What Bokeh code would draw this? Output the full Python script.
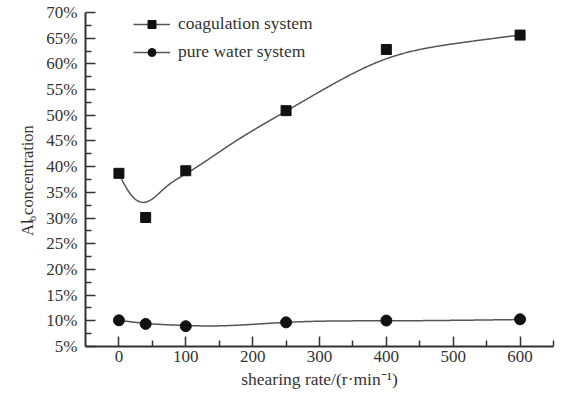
import numpy as np
from bokeh.plotting import figure
from bokeh.layouts import row
from bokeh.models import (Range1d, FixedTicker, PrintfTickFormatter, Legend, LegendItem)
from bokeh.core.properties import value
from bokeh.embed import file_html
from bokeh.resources import INLINE

# ---- data ----
shear_rate = [0, 40, 100, 250, 400, 600]
coagulation = [38.7, 30.1, 39.2, 50.9, 62.8, 65.6]
pure_water = [10.1, 9.4, 8.95, 9.7, 10.05, 10.3]

# fitted-curve knots
coag_curve_x = [0, 17, 40, 70, 100, 175, 250, 325, 400, 500, 600]
coag_curve_y = [38.6, 34.7, 33.1, 36.0, 38.6, 45.0, 50.8, 56.4, 61.0, 63.9, 65.6]
water_curve_x = [0, 40, 100, 130, 250, 400, 600]
water_curve_y = [10.1, 9.5, 9.1, 9.0, 9.7, 10.0, 10.25]

x_major = [0, 100, 200, 300, 400, 500, 600]
x_minor = [50, 150, 250, 350, 450, 550, 650]
y_major = [5, 10, 15, 20, 25, 30, 35, 40, 45, 50, 55, 60, 65, 70]
y_minor = [7.5, 12.5, 17.5, 22.5, 27.5, 32.5, 37.5, 42.5, 47.5, 52.5, 57.5, 62.5, 67.5]

y_label_parts = ["Al", "b", "concentration"]

FONT = "Liberation Serif"
TXT = "#333333"
FS = "17px"

W, H = 563, 396
LW = 40  # width of the strip that holds the rotated y-axis title


def natural_spline(xk, yk, n=400):
    xk = np.asarray(xk, float); yk = np.asarray(yk, float)
    m = len(xk); h = np.diff(xk)
    A = np.zeros((m, m)); b = np.zeros(m)
    A[0, 0] = A[-1, -1] = 1
    for i in range(1, m - 1):
        A[i, i - 1] = h[i - 1]; A[i, i] = 2 * (h[i - 1] + h[i]); A[i, i + 1] = h[i]
        b[i] = 6 * ((yk[i + 1] - yk[i]) / h[i] - (yk[i] - yk[i - 1]) / h[i - 1])
    M = np.linalg.solve(A, b)
    xs = np.linspace(xk[0], xk[-1], n)
    idx = np.clip(np.searchsorted(xk, xs) - 1, 0, m - 2)
    x0 = xk[idx]; x1 = xk[idx + 1]; hh = x1 - x0
    t0 = x1 - xs; t1 = xs - x0
    ys = (M[idx] * t0**3 + M[idx + 1] * t1**3) / (6 * hh) + \
         (yk[idx] / hh - M[idx] * hh / 6) * t0 + (yk[idx + 1] / hh - M[idx + 1] * hh / 6) * t1
    return xs, ys


# ---- strip with the y-axis title (pixel coordinates, y measured from bottom) ----
t = figure(width=LW, height=H, x_range=Range1d(0, LW), y_range=Range1d(0, H),
           output_backend="svg", toolbar_location=None, x_axis_type=None, y_axis_type=None,
           min_border=0, min_border_left=0, min_border_right=0, min_border_top=0, min_border_bottom=0)
t.outline_line_color = None
t.xgrid.visible = False
t.ygrid.visible = False
lab_x = [27, 31, 27]
lab_y = [131, 148.5, 156]
lab_size = ["16.5px", "11px", "16.5px"]
t.text(x=lab_x, y=lab_y, text=y_label_parts, angle=np.pi / 2, text_font=value(FONT),
       text_font_size=lab_size, text_color=TXT, text_align="left", text_baseline="alphabetic")

# ---- main chart ----
p = figure(width=W - LW, height=H, x_range=Range1d(-50, 650), y_range=Range1d(5, 70),
           output_backend="svg", toolbar_location=None,
           min_border_left=85 - LW, min_border_right=10, min_border_top=12, min_border_bottom=50)
p.xgrid.visible = False
p.ygrid.visible = False
p.outline_line_color = None
p.background_fill_color = "white"

cx, cy = natural_spline(coag_curve_x, coag_curve_y)
wx, wy = natural_spline(water_curve_x, water_curve_y)

l1 = p.line(cx, cy, line_color="#555555", line_width=1.5)
s1 = p.scatter(shear_rate, coagulation, marker="square", size=10, fill_color="#111111", line_color="#111111")
l2 = p.line(wx, wy, line_color="#555555", line_width=1.5)
s2 = p.scatter(shear_rate, pure_water, marker="circle", size=11, fill_color="#111111", line_color="#111111")

legend = Legend(items=[LegendItem(label="coagulation system", renderers=[l1, s1]),
                       LegendItem(label="pure water system", renderers=[l2, s2])],
                location=(48, 284), padding=0, margin=0, glyph_width=37, glyph_height=20,
                label_height=20, spacing=7, label_standoff=8,
                border_line_color=None, background_fill_alpha=0,
                label_text_font=FONT, label_text_font_size="17.5px", label_text_color=TXT)
p.add_layout(legend, "center")

for ax in (p.xaxis[0], p.yaxis[0]):
    ax.axis_line_color = "#333333"
    ax.axis_line_width = 2
    ax.major_tick_line_color = "#333333"
    ax.minor_tick_line_color = "#333333"
    ax.major_tick_line_width = 1.5
    ax.minor_tick_line_width = 1.5
    ax.major_tick_in = 10
    ax.major_tick_out = 0
    ax.minor_tick_in = 6
    ax.minor_tick_out = 0
    ax.major_label_text_font = FONT
    ax.major_label_text_font_size = FS
    ax.major_label_text_color = TXT

p.xaxis[0].ticker = FixedTicker(ticks=x_major, minor_ticks=x_minor)
p.xaxis[0].major_label_standoff = 4
p.xaxis[0].axis_label = "shearing rate/(r\u00b7min\u207b\u00b9)"
p.xaxis[0].axis_label_standoff = 4
p.xaxis[0].axis_label_text_font = FONT
p.xaxis[0].axis_label_text_font_size = "17.5px"
p.xaxis[0].axis_label_text_font_style = "normal"
p.xaxis[0].axis_label_text_color = TXT

p.yaxis[0].ticker = FixedTicker(ticks=y_major, minor_ticks=y_minor)
p.yaxis[0].formatter = PrintfTickFormatter(format="%d%%")
p.yaxis[0].major_label_standoff = 8

layout = row(t, p, spacing=0)
open("out.html", "w").write(file_html(layout, INLINE))
